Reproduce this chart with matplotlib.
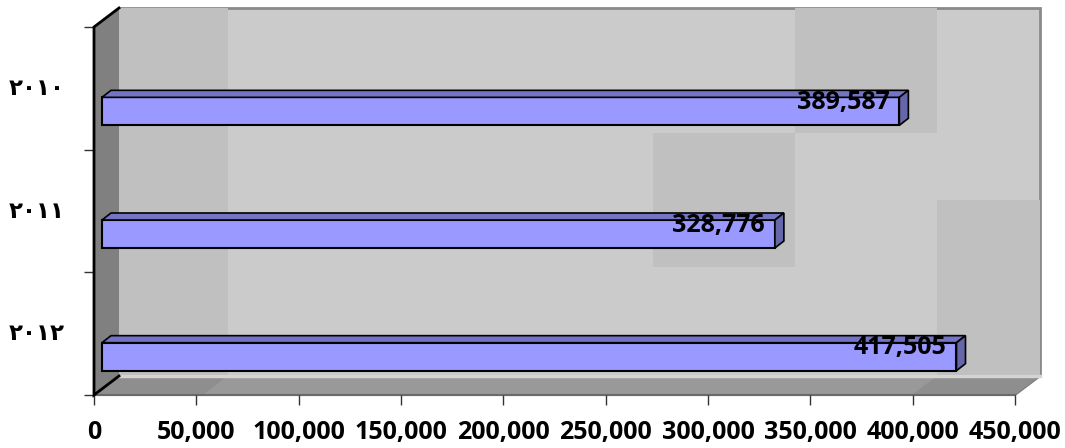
import matplotlib
matplotlib.use('Agg')
import matplotlib.pyplot as plt
from matplotlib.patches import Polygon, Rectangle

# data
years = ['٢٠١٠', '٢٠١١', '٢٠١٢']
values = [389587, 328776, 417505]
xticks = [0, 50000, 100000, 150000, 200000, 250000, 300000, 350000, 400000, 450000]
xticklabels = ['0', '50,000', '100,000', '150,000', '200,000', '250,000',
               '300,000', '350,000', '400,000', '450,000']

W, H = 1065, 448
fig = plt.figure(figsize=(W / 100, H / 100), dpi=100)

# front plane of the 3d box, in pixels
fx0, fx1, fy0, fy1 = 94, 1015, 27, 395
ax = fig.add_axes([fx0 / W, 1 - fy1 / H, (fx1 - fx0) / W, (fy1 - fy0) / H])
xmax = 450000
ncat = len(years)
ax.set_xlim(0, xmax)
ax.set_ylim(0, ncat)
ax.patch.set_visible(False)
for s in ax.spines.values():
    s.set_visible(False)

px = xmax / (fx1 - fx0)   # data units per pixel
py = ncat / (fy1 - fy0)
DX, DY = 25 * px, 19 * py  # box depth

# back wall
ax.add_patch(Rectangle((DX, DY), xmax, ncat, fc='#cbcbcb', ec='#8a8a8a', lw=2,
                       zorder=0, clip_on=False))
# faint shading tiles on the back wall (fractions of the wall)
tiles = [(0, 0, 0.118, 1), (0.734, 0.66, 0.888, 1), (0.58, 0.296, 0.734, 0.66),
         (0.888, 0, 1, 0.478)]
for x0, y0, x1, y1 in tiles:
    ax.add_patch(Rectangle((DX + x0 * xmax, DY + y0 * ncat), (x1 - x0) * xmax,
                           (y1 - y0) * ncat, fc='#c0c0c0', ec='none', zorder=0.5,
                           clip_on=False))

# floor
ax.add_patch(Polygon([(0, 0), (xmax, 0), (xmax + DX, DY), (DX, DY)], closed=True,
                     fc='#999999', ec='#7a7a7a', lw=1.5, zorder=1, clip_on=False))
for x0, x1 in [(0, 0.118), (0.888, 1)]:
    ax.add_patch(Polygon([(x0 * xmax, 0), (x1 * xmax, 0), (x1 * xmax + DX, DY),
                          (x0 * xmax + DX, DY)], closed=True, fc='#8e8e8e',
                         ec='none', zorder=1.1, clip_on=False))
ax.plot([DX, xmax + DX], [DY, DY], color='#d4d4d4', lw=2.5, zorder=1.15,
        clip_on=False)
ax.plot([0, xmax], [0, 0], color='#6a6a6a', lw=1.5, zorder=1.2, clip_on=False)

# left wall
ax.add_patch(Polygon([(0, 0), (DX, DY), (DX, ncat + DY), (0, ncat)], closed=True,
                     fc='#808080', ec='none', zorder=2, clip_on=False))
ax.plot([DX, 0, 0, DX], [ncat + DY, ncat, 0, DY], color='black', lw=2,
        zorder=2.5, clip_on=False, solid_joinstyle='miter')

# bars
ypos = [ncat - 0.5 - i for i in range(ncat)]
left = 8 * px
bh = 28 * py
yc = [p - 23 * py for p in ypos]
bx, by = 9 * px, 7 * py
ax.barh(yc, values, height=bh, left=left, color='#9999ff', edgecolor='black',
        lw=1.5, zorder=3, clip_on=False)
for y, v in zip(yc, values):
    t, b = y + bh / 2, y - bh / 2
    r = left + v
    ax.add_patch(Polygon([(left, t), (r, t), (r + bx, t + by), (left + bx, t + by)],
                         closed=True, fc='#7474c4', ec='black', lw=1.2, zorder=3.1,
                         clip_on=False))
    ax.add_patch(Polygon([(r, b), (r, t), (r + bx, t + by), (r + bx, b + by)],
                         closed=True, fc='#6666aa', ec='black', lw=1.2, zorder=3.1,
                         clip_on=False))
    ax.text(r - 10 * px, y + 9 * py, f'{v:,}', ha='right', va='center',
            fontsize=18, fontweight='bold', family='Open Sans', zorder=5)

# category labels
for p, lab in zip(ypos, years):
    ax.text(-29 * px, p, lab, ha='right', va='center', fontsize=16.5,
            fontweight='bold', family='DejaVu Sans')

ax.set_yticks(range(ncat + 1))
ax.set_yticklabels([])
ax.tick_params(axis='y', length=7, width=1, color='#333333')
ax.set_xticks(xticks)
ax.set_xticklabels(xticklabels, fontsize=18, fontweight='bold', family='Open Sans')
ax.tick_params(axis='x', length=7, width=1, color='#333333', pad=11)

fig.savefig('out.png', dpi=100)
